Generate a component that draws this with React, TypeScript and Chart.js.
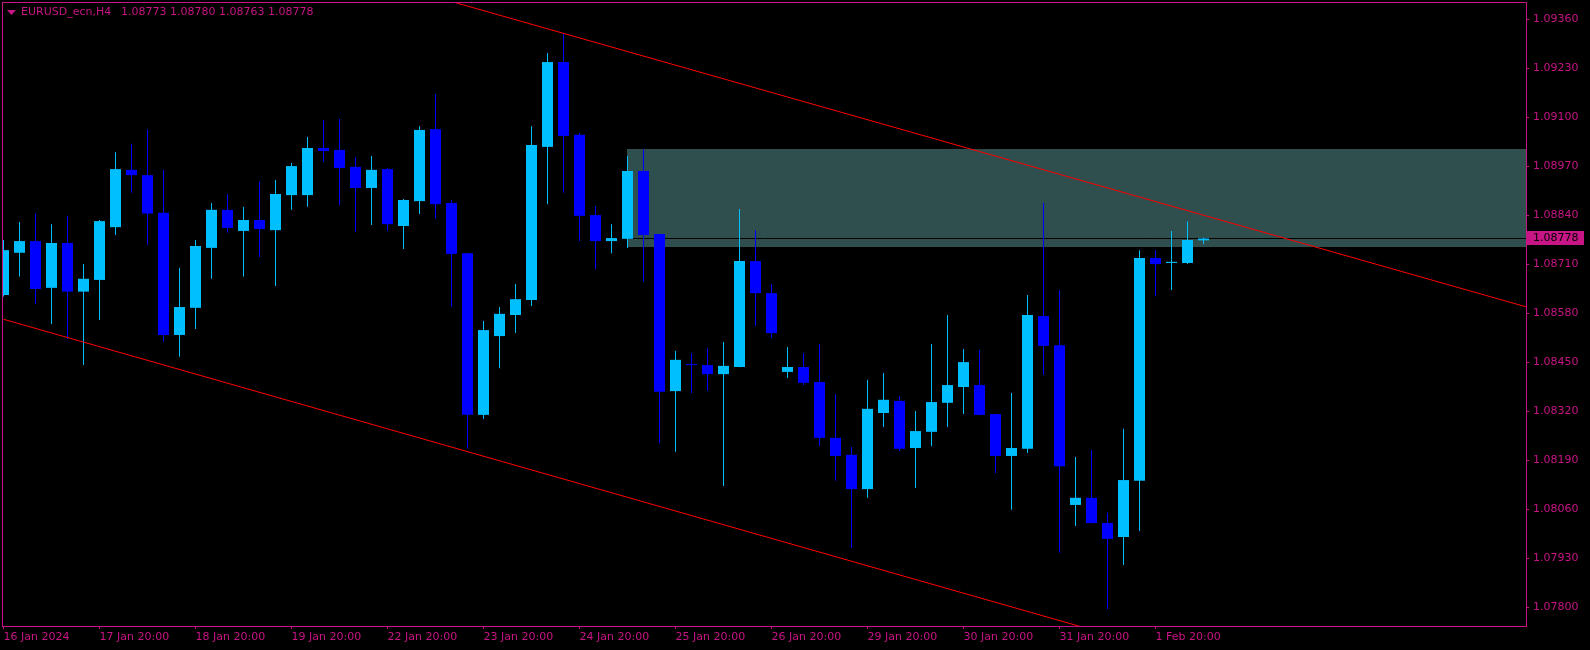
import React, { useEffect, useRef } from "react";
import { Chart, registerables } from "chart.js";

Chart.register(...registerables);

const FG = "#C71585";
const BULL = "#00BFFF";
const BEAR = "#0000FF";
const ZONE = "#2F4F4F";
const TREND = "#FF0000";
const FONT = "'DejaVu Sans', sans-serif";

const symbolTitle = "EURUSD_ecn,H4";
const ohlcTitle = "1.08773 1.08780 1.08763 1.08778";
const lastPrice = 1.08778;

const opens = [
  1.08628, 1.0874, 1.08771, 1.08647, 1.08766, 1.08637, 1.08668, 1.08808, 1.0896, 1.08946,
  1.08846, 1.08522, 1.08594, 1.08753, 1.08854, 1.08798, 1.08827, 1.088, 1.08893, 1.08893,
  1.09018, 1.09013, 1.08968, 1.08912, 1.08962, 1.08811, 1.08877, 1.09068, 1.08872, 1.08739,
  1.0831, 1.08519, 1.08575, 1.08615, 1.09021, 1.09246, 1.09053, 1.0884, 1.08771, 1.08777,
  1.08957, 1.0879, 1.08373, 1.08443, 1.08442, 1.08418, 1.08437, 1.08718, 1.08633, 1.08424,
  1.08437, 1.08397, 1.08249, 1.08204, 1.08113, 1.08315, 1.08347, 1.08222, 1.08265, 1.08342,
  1.08384, 1.08389, 1.08312, 1.08201, 1.0822, 1.08572, 1.08495, 1.08071, 1.0809, 1.08023,
  1.07986, 1.08135, 1.08726, 1.08713, 1.08713, 1.08773,
];
const highs = [
  1.08774, 1.08822, 1.08845, 1.08816, 1.08838, 1.0871, 1.08827, 1.09007, 1.09029, 1.09068,
  1.0896, 1.087, 1.08774, 1.08872, 1.08896, 1.08862, 1.0893, 1.08933, 1.08978, 1.09047,
  1.09092, 1.09095, 1.08994, 1.08997, 1.08965, 1.08883, 1.09076, 1.09161, 1.0888, 1.0874,
  1.08559, 1.08596, 1.08657, 1.09076, 1.0927, 1.09322, 1.09058, 1.08864, 1.08816, 1.08997,
  1.09015, 1.0879, 1.0848, 1.08474, 1.08487, 1.08503, 1.08856, 1.088, 1.08657, 1.0849,
  1.08474, 1.08498, 1.08365, 1.08225, 1.08403, 1.08421, 1.0836, 1.0832, 1.08498, 1.08575,
  1.08485, 1.08482, 1.08313, 1.08368, 1.08628, 1.08872, 1.08641, 1.08198, 1.08217, 1.0805,
  1.08273, 1.08747, 1.08747, 1.08798, 1.08824, 1.0878,
];
const lows = [
  1.08624, 1.08677, 1.08604, 1.08551, 1.08511, 1.08442, 1.08562, 1.08787, 1.08899, 1.08761,
  1.08504, 1.08464, 1.08538, 1.08671, 1.08793, 1.08677, 1.08729, 1.08652, 1.08854, 1.08862,
  1.08981, 1.08867, 1.08795, 1.08814, 1.08798, 1.0875, 1.08843, 1.0883, 1.08596, 1.0822,
  1.08299, 1.08434, 1.08527, 1.08599, 1.08869, 1.08899, 1.08771, 1.08697, 1.08739, 1.08753,
  1.08663, 1.08235, 1.08212, 1.08368, 1.08373, 1.08121, 1.08436, 1.08546, 1.08514, 1.08408,
  1.08389, 1.08227, 1.08135, 1.07957, 1.0809, 1.08278, 1.08214, 1.08116, 1.08227, 1.08278,
  1.08312, 1.08309, 1.08156, 1.08058, 1.08209, 1.08416, 1.07944, 1.08015, 1.08022, 1.07795,
  1.07912, 1.08002, 1.08625, 1.08641, 1.0871, 1.08763,
];
const closes = [
  1.08747, 1.08771, 1.08644, 1.08766, 1.08637, 1.08671, 1.08824, 1.08962, 1.08946, 1.08844,
  1.08522, 1.08596, 1.08758, 1.08854, 1.08806, 1.08827, 1.08803, 1.08896, 1.0897, 1.09018,
  1.0901, 1.08965, 1.08912, 1.0896, 1.08816, 1.0888, 1.09066, 1.08869, 1.08737, 1.0831,
  1.08535, 1.08578, 1.08617, 1.09026, 1.09246, 1.0905, 1.08838, 1.08771, 1.08779, 1.08957,
  1.08787, 1.08371, 1.08456, 1.08442, 1.08418, 1.0844, 1.08718, 1.08633, 1.08527, 1.08437,
  1.08395, 1.08249, 1.08201, 1.08113, 1.08326, 1.0835, 1.0822, 1.08267, 1.08344, 1.08389,
  1.0845, 1.0831, 1.08201, 1.08222, 1.08575, 1.08493, 1.08174, 1.0809, 1.08023, 1.07981,
  1.08137, 1.08726, 1.0871, 1.08716, 1.08774, 1.08778,
];

const xTickIndex = [0, 6, 12, 18, 24, 30, 36, 42, 48, 54, 60, 66, 72];
const xTickLabels = [
  "16 Jan 2024", "17 Jan 20:00", "18 Jan 20:00", "19 Jan 20:00", "22 Jan 20:00",
  "23 Jan 20:00", "24 Jan 20:00", "25 Jan 20:00", "26 Jan 20:00", "29 Jan 20:00",
  "30 Jan 20:00", "31 Jan 20:00", "1 Feb 20:00",
];
const yTickValues = [
  1.0936, 1.0923, 1.091, 1.0897, 1.0884, 1.0871, 1.0858, 1.0845, 1.0832, 1.0819, 1.0806, 1.0793, 1.078,
];

const upperTrend = [
  { x: 0, y: 1.097443 },
  { x: 96, y: 1.085865 },
];
const lowerTrend = [
  { x: 0, y: 1.085636 },
  { x: 96, y: 1.07401 },
];

const zoneStart = 39;
const zoneTop = 1.09015;
const zoneBottom = 1.08755;

const xMin = -0.03125;
const xMax = 95.15625;
const yMin = 1.0774985;
const yMax = 1.094027;

const decor = {
  id: "mtDecor",
  beforeDraw(chart: any) {
    const { ctx, width, height } = chart;
    ctx.save();
    ctx.fillStyle = "#000";
    ctx.fillRect(0, 0, width, height);
    ctx.restore();
  },
  beforeDatasetsDraw(chart: any) {
    const { ctx, chartArea: a, scales } = chart;
    const x = scales.x;
    const y = scales.y;
    ctx.save();
    ctx.beginPath();
    ctx.rect(a.left, a.top, a.right - a.left, a.bottom - a.top);
    ctx.clip();
    const zx = Math.floor(x.getPixelForValue(zoneStart));
    const zt = Math.round(y.getPixelForValue(zoneTop));
    const zb = Math.round(y.getPixelForValue(zoneBottom));
    ctx.fillStyle = ZONE;
    ctx.fillRect(zx, zt, a.right - zx, zb - zt);
    const py = Math.floor(y.getPixelForValue(lastPrice)) + 0.5;
    ctx.strokeStyle = "#000";
    ctx.lineWidth = 1;
    ctx.beginPath();
    ctx.moveTo(a.left, py);
    ctx.lineTo(a.right, py);
    ctx.stroke();
    ctx.restore();
  },
  afterDraw(chart: any) {
    const { ctx, chartArea: a, scales } = chart;
    const y = scales.y;
    ctx.save();
    ctx.strokeStyle = FG;
    ctx.lineWidth = 1;
    ctx.strokeRect(a.left - 0.5, a.top - 0.5, a.right - a.left + 1, a.bottom - a.top + 1);

    ctx.fillStyle = FG;
    ctx.beginPath();
    ctx.moveTo(7, 10);
    ctx.lineTo(16, 10);
    ctx.lineTo(11.5, 15);
    ctx.closePath();
    ctx.fill();
    ctx.font = `11px ${FONT}`;
    ctx.textBaseline = "middle";
    ctx.textAlign = "left";
    ctx.fillText(symbolTitle, 21, 12.5);
    ctx.fillText(ohlcTitle, 121, 12.5);

    const py = Math.floor(y.getPixelForValue(lastPrice));
    ctx.fillStyle = FG;
    ctx.fillRect(a.right + 1, py - 7, 57, 14);
    ctx.fillStyle = "#000";
    ctx.fillText(lastPrice.toFixed(5), a.right + 7, py + 0.5);
    ctx.restore();
  },
};

export default function App() {
  const ref = useRef<HTMLCanvasElement>(null);
  useEffect(() => {
    document.body.style.margin = "0";
    document.body.style.background = "#000";
    const canvas = ref.current as HTMLCanvasElement;
    const idx = opens.map((_, i) => i);
    const colors = idx.map((i) => (closes[i] > opens[i] ? BULL : BEAR));
    const bodies = idx.map((i) => ({ x: i, y: [opens[i], closes[i]] }));
    const wicks = idx.map((i) => ({ x: i, y: [lows[i], highs[i]] }));
    const zeroPad = (s: any) => {
      s.paddingLeft = 0;
      s.paddingRight = 0;
      s.paddingTop = 0;
      s.paddingBottom = 0;
    };
    const chart = new Chart(canvas, {
      type: "bar",
      data: {
        datasets: [
          {
            type: "line",
            data: upperTrend,
            borderColor: TREND,
            borderWidth: 1,
            pointRadius: 0,
            fill: false,
            tension: 0,
          } as any,
          {
            type: "line",
            data: lowerTrend,
            borderColor: TREND,
            borderWidth: 1,
            pointRadius: 0,
            fill: false,
            tension: 0,
          } as any,
          {
            type: "bar",
            data: bodies,
            backgroundColor: colors,
            barThickness: 11,
            minBarLength: 1,
            grouped: false,
            borderWidth: 0,
            inflateAmount: 0,
          } as any,
          {
            type: "bar",
            data: wicks,
            backgroundColor: colors,
            barThickness: 1,
            grouped: false,
            borderWidth: 0,
            inflateAmount: 0,
          } as any,
        ],
      },
      options: {
        responsive: false,
        maintainAspectRatio: false,
        devicePixelRatio: 1,
        animation: false,
        events: [],
        layout: { padding: { left: 3, top: 3, right: 0, bottom: 0 } },
        plugins: {
          legend: { display: false },
          tooltip: { enabled: false },
          title: { display: false },
        },
        scales: {
          x: {
            type: "linear",
            min: xMin,
            max: xMax,
            bounds: "data",
            offset: false,
            grid: {
              offset: false,
              drawOnChartArea: false,
              drawTicks: true,
              tickLength: 3,
              color: FG,
              lineWidth: 1,
            },
            border: { display: false },
            ticks: {
              color: FG,
              font: { family: FONT, size: 11 },
              align: "start",
              maxRotation: 0,
              minRotation: 0,
              autoSkip: false,
              padding: 2,
              callback: (v: any) => {
                const k = xTickIndex.indexOf(Number(v));
                return k >= 0 ? xTickLabels[k] : "";
              },
            },
            afterBuildTicks: (s: any) => {
              s.ticks = xTickIndex.map((v) => ({ value: v }));
            },
            afterFit: (s: any) => {
              s.height = 24;
              zeroPad(s);
            },
          },
          y: {
            type: "linear",
            position: "right",
            min: yMin,
            max: yMax,
            bounds: "data",
            grid: {
              drawOnChartArea: false,
              drawTicks: true,
              tickLength: 3,
              color: FG,
              lineWidth: 1,
            },
            border: { display: false },
            ticks: {
              color: FG,
              font: { family: FONT, size: 11 },
              padding: 4,
              autoSkip: false,
              callback: (v: any) => Number(v).toFixed(5),
            },
            afterBuildTicks: (s: any) => {
              s.ticks = yTickValues.map((v) => ({ value: v }));
            },
            afterFit: (s: any) => {
              s.width = 64;
              zeroPad(s);
            },
          },
        },
      } as any,
      plugins: [decor],
    });
    return () => chart.destroy();
  }, []);
  return (
    <div style={{ width: 1590, height: 650, background: "#000" }}>
      <canvas ref={ref} width={1590} height={650} style={{ display: "block" }} />
    </div>
  );
}
